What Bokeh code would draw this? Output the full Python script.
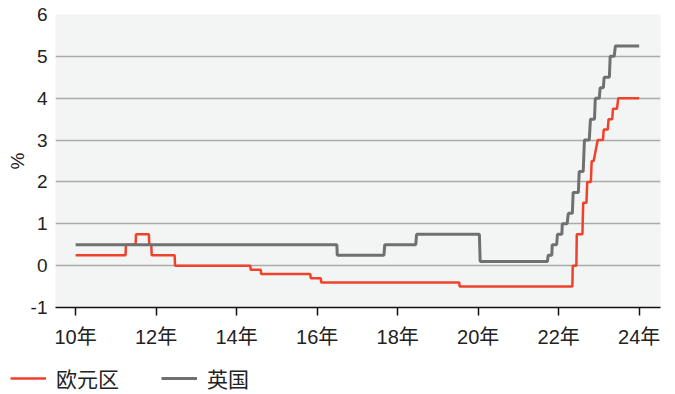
from bokeh.plotting import figure
from bokeh.models import Range1d, FixedTicker, Legend, LegendItem
from bokeh.embed import file_html
from bokeh.resources import INLINE

# Euro area deposit rate (%), vertices (decimal years)
eu_x = [2010.0, 2011.24, 2011.25, 2011.49, 2011.50, 2011.82, 2011.83, 2011.88, 2011.89,
        2012.46, 2012.47, 2014.34, 2014.35, 2014.60, 2014.61, 2015.83, 2015.84, 2016.09,
        2016.10, 2019.53, 2019.54, 2022.34, 2022.35, 2022.44, 2022.45, 2022.59, 2022.61,
        2022.69, 2022.71, 2022.80, 2022.82, 2022.87, 2022.97, 2023.10, 2023.12, 2023.22,
        2023.24, 2023.33, 2023.35, 2023.45, 2023.48, 2024.0]
eu_y = [0.25, 0.25, 0.5, 0.5, 0.75, 0.75, 0.5, 0.5, 0.25,
        0.25, 0.0, 0.0, -0.1, -0.1, -0.2, -0.2, -0.3, -0.3,
        -0.4, -0.4, -0.5, -0.5, 0.0, 0.0, 0.75, 0.75, 1.5,
        1.5, 2.0, 2.0, 2.5, 2.5, 3.0, 3.0, 3.25, 3.25,
        3.5, 3.5, 3.75, 3.75, 4.0, 4.0]

# UK Bank Rate (%)
uk_x = [2010.0, 2016.49, 2016.50, 2017.66, 2017.68, 2018.45, 2018.47, 2020.03, 2020.05,
        2021.72, 2021.74, 2021.83, 2021.84, 2021.95, 2021.97, 2022.08, 2022.09, 2022.21,
        2022.24, 2022.34, 2022.36, 2022.49, 2022.51, 2022.61, 2022.64, 2022.76, 2022.79,
        2022.89, 2022.91, 2023.01, 2023.03, 2023.11, 2023.13, 2023.26, 2023.28, 2023.38,
        2023.41, 2024.0]
uk_y = [0.5, 0.5, 0.25, 0.25, 0.5, 0.5, 0.75, 0.75, 0.1,
        0.1, 0.25, 0.25, 0.5, 0.5, 0.75, 0.75, 1.0, 1.0,
        1.25, 1.25, 1.75, 1.75, 2.25, 2.25, 3.0, 3.0, 3.5,
        3.5, 4.0, 4.0, 4.25, 4.25, 4.5, 4.5, 5.0, 5.0,
        5.25, 5.25]

x_ticks = [2010, 2012, 2014, 2016, 2018, 2020, 2022, 2024]
x_tick_labels = ["10年", "12年", "14年", "16年", "18年", "20年", "22年", "24年"]
y_ticks = [-1, 0, 1, 2, 3, 4, 5, 6]
y_tick_labels = ["-1", "0", "1", "2", "3", "4", "5", "6"]
series_names = ["欧元区", "英国"]

FONT = "'Liberation Sans', 'Noto Sans CJK SC'"
RED = "#f0412a"
GRAY = "#6f7072"
TEXT = "#222222"

p = figure(width=675, height=350, output_backend="svg", toolbar_location=None,
           x_range=Range1d(2009.5, 2024.53), y_range=Range1d(-1, 6),
           min_border_left=55, min_border_right=15, min_border_top=14, min_border_bottom=42)

p.background_fill_color = "#f3f4f4"
p.border_fill_color = "white"
p.outline_line_color = None

p.line(eu_x, eu_y, line_color=RED, line_width=2.5)
p.line(uk_x, uk_y, line_color=GRAY, line_width=3)

p.xgrid.grid_line_color = None
p.ygrid.grid_line_color = "#a9aaab"
p.ygrid.grid_line_width = 1.5
p.ygrid.ticker = FixedTicker(ticks=y_ticks)

xa = p.xaxis[0]
xa.ticker = FixedTicker(ticks=x_ticks)
xa.major_label_overrides = {t: l for t, l in zip(x_ticks, x_tick_labels)}
xa.axis_line_color = "#111111"
xa.axis_line_width = 1.5
xa.major_tick_line_color = "#111111"
xa.major_tick_line_width = 1.5
xa.major_tick_out = 8
xa.major_tick_in = 0
xa.minor_tick_line_color = None
xa.minor_tick_out = 0
xa.minor_tick_in = 0
xa.major_label_text_font = FONT
xa.major_label_text_font_size = "20px"
xa.major_label_text_color = TEXT
xa.major_label_standoff = 10

ya = p.yaxis[0]
ya.ticker = FixedTicker(ticks=y_ticks)
ya.major_label_overrides = {t: l for t, l in zip(y_ticks, y_tick_labels)}
ya.axis_line_color = None
ya.major_tick_line_color = None
ya.minor_tick_line_color = None
ya.major_tick_out = 0
ya.major_tick_in = 0
ya.minor_tick_out = 0
ya.minor_tick_in = 0
ya.major_label_text_font = FONT
ya.major_label_text_font_size = "19px"
ya.major_label_text_color = TEXT
ya.major_label_standoff = 8
ya.axis_label = "%"
ya.axis_label_text_font = FONT
ya.axis_label_text_font_size = "19px"
ya.axis_label_text_font_style = "normal"
ya.axis_label_text_color = TEXT
ya.axis_label_standoff = 0

# legend strip below the chart (separate root, so it is not frame-aligned)
q = figure(width=675, height=44, output_backend="svg", toolbar_location=None,
           x_axis_location=None, y_axis_location=None,
           min_border_left=0, min_border_right=0, min_border_top=0, min_border_bottom=0)
q.outline_line_color = None
q.background_fill_color = "white"
q.border_fill_color = "white"
q.xgrid.visible = False
q.ygrid.visible = False
l_eu = q.line(eu_x[:1], eu_y[:1], line_color=RED, line_width=2.5)
l_uk = q.line(uk_x[:1], uk_y[:1], line_color=GRAY, line_width=3)
legend = Legend(items=[LegendItem(label=series_names[0], renderers=[l_eu]),
                       LegendItem(label=series_names[1], renderers=[l_uk])],
                orientation="horizontal", location=(10, 1),
                glyph_width=36, glyph_height=22, label_standoff=10, spacing=42,
                padding=0, margin=0, border_line_color=None, background_fill_alpha=0,
                label_text_font=FONT, label_text_font_size="21px", label_text_color=TEXT)
q.add_layout(legend, "center")

open("out.html", "w").write(file_html([p, q], INLINE))
